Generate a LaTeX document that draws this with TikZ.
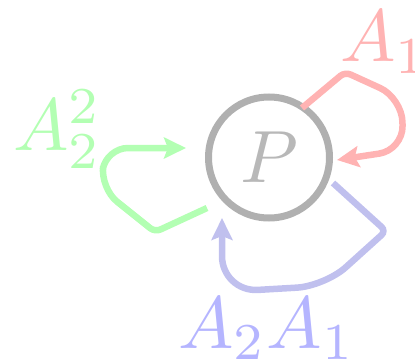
\documentclass[tikz,border=0pt]{standalone}
\usetikzlibrary{arrows.meta}
\definecolor{cgray}{RGB}{176,176,176}
\definecolor{cpgray}{RGB}{184,184,184}
\definecolor{cred}{RGB}{255,179,179}
\definecolor{cgreen}{RGB}{179,255,179}
\definecolor{cblueline}{RGB}{192,192,238}
\definecolor{cblue}{RGB}{181,181,255}
\newcommand{\bigmath}[1]{\scalebox{7.4}{$#1$}}
\tikzset{
  loopline/.style={line width=6.5pt, line cap=butt,
    -{Stealth[length=22pt,width=21pt,inset=4pt]}},
  biglabel/.style={inner sep=0pt, anchor=base west},
}
\begin{document}
\begin{tikzpicture}[x=1pt,y=-1pt]
\useasboundingbox (0,0) rectangle (415,361);
\node[circle, draw=cgray, line width=7pt, minimum size=121pt, inner sep=0pt,
      text=cpgray] (P) at (269,157.5) {\bigmath{P}};
% endpoints
\coordinate (r0) at (302,108);
\coordinate (r1) at (337,160);
\coordinate (g0) at (207,208);
\coordinate (g1) at (186,148);
\coordinate (b0) at (333,183);
\coordinate (b1) at (222,218);
% red loop
\draw[loopline, draw=cred] (r0) [rounded corners=6pt] -- (345,72)
   [rounded corners=24pt] -- (402,98) -- (403,150) -- (r1);
% green loop
\draw[loopline, draw=cgreen] (g0) [rounded corners=6pt] -- (155,232)
   [rounded corners=22pt] -- (100,188) -- (106,148) -- (g1);
% blue loop
\draw[loopline, draw=cblueline] (b0) [rounded corners=6pt] -- (386,231)
   [rounded corners=28pt] -- (325,286) [rounded corners=36pt] -- (222,292) -- (b1);
% labels
\node[biglabel, text=cred] (l1) at (340,62) {\bigmath{A_1}};
\node[biglabel, text=cgreen] (l2) at (13,150) {\bigmath{A_2^2}};
\node[biglabel, text=cblue] (l3) at (178,348) {\bigmath{A_2A_1}};
\end{tikzpicture}
\end{document}
